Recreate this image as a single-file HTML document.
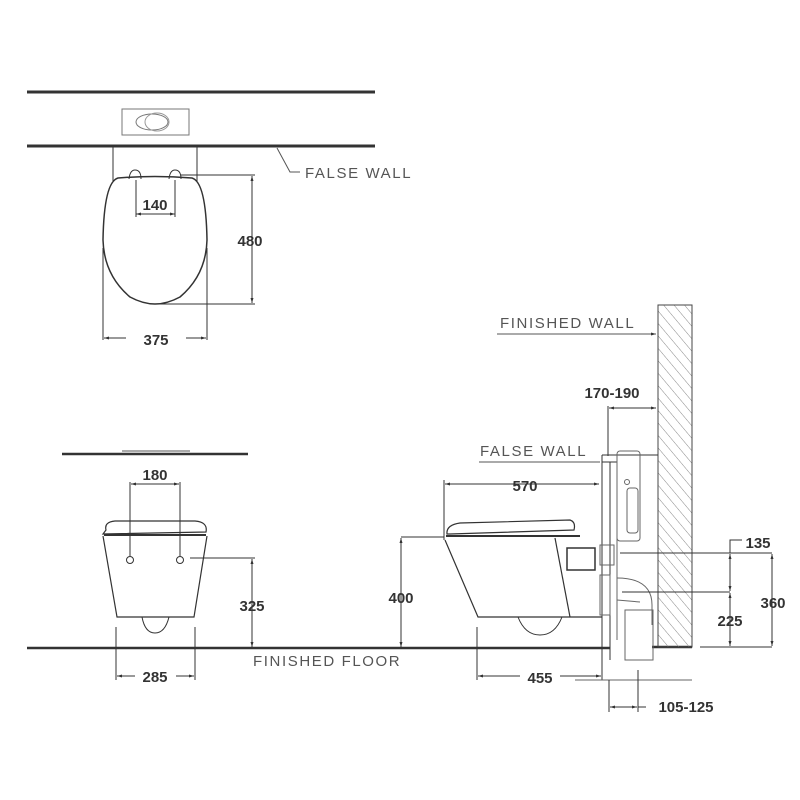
<!DOCTYPE html>
<html><head><meta charset="utf-8"><style>
html,body{margin:0;padding:0;background:#fff;}
svg{display:block;}
text{font-family:"Liberation Sans",sans-serif;fill:#333;}
.d{font-size:15px;font-weight:bold;text-anchor:middle;}
.l{font-size:15px;letter-spacing:1.6px;fill:#555;}
</style></head><body>
<svg width="800" height="800" viewBox="0 0 800 800" xmlns="http://www.w3.org/2000/svg">
<defs>
<pattern id="h" width="8" height="8" patternUnits="userSpaceOnUse" patternTransform="rotate(-40)"><line x1="0" y1="0" x2="0" y2="8" stroke="#888" stroke-width="1"/></pattern>
<marker id="a" viewBox="0 0 10 10" refX="10" refY="5" markerWidth="7" markerHeight="5" orient="auto-start-reverse"><path d="M0,2 L10,5 L0,8 z" fill="#333"/></marker>
</defs>
<g stroke="#333" fill="none" stroke-width="1">
<!-- TOP VIEW -->
<line x1="27" y1="92" x2="375" y2="92" stroke-width="3"/>
<rect x="122" y="109" width="67" height="26" stroke="#777"/>
<ellipse cx="152" cy="122" rx="16" ry="8" stroke="#777"/>
<ellipse cx="157" cy="122" rx="12" ry="9" stroke="#999"/>
<line x1="27" y1="146" x2="375" y2="146" stroke-width="3"/>
<polyline points="277,148 290,172 300,172" stroke="#555"/>
<line x1="113" y1="147" x2="113" y2="181"/>
<line x1="197" y1="147" x2="197" y2="181"/>
<path d="M129,179 Q130,170 135,170 Q141,170 141,179"/>
<path d="M169,179 Q170,170 175,170 Q181,170 181,179"/>
<path d="M118,178 Q155,175 192,178 Q206,182 207,240 Q206,275 180,297 Q167,304 155,304 Q143,304 130,297 Q104,275 103,240 Q104,182 118,178 Z" stroke-width="1.5"/>
<line x1="136" y1="180" x2="136" y2="217"/>
<line x1="175" y1="180" x2="175" y2="217"/>
<line x1="136" y1="214" x2="175" y2="214" marker-start="url(#a)" marker-end="url(#a)"/>
<line x1="180" y1="175" x2="255" y2="175"/>
<line x1="160" y1="304" x2="255" y2="304"/>
<line x1="252" y1="176" x2="252" y2="303" marker-start="url(#a)" marker-end="url(#a)"/>
<line x1="103" y1="248" x2="103" y2="340"/>
<line x1="207" y1="248" x2="207" y2="340"/>
<line x1="104" y1="338" x2="126" y2="338" marker-start="url(#a)"/>
<line x1="186" y1="338" x2="206" y2="338" marker-end="url(#a)"/>
<!-- FRONT VIEW -->
<line x1="62" y1="454" x2="248" y2="454" stroke-width="2.5"/>
<line x1="122" y1="451" x2="190" y2="451" stroke="#aaa" stroke-width="2"/>
<line x1="130" y1="482" x2="130" y2="556"/>
<line x1="180" y1="482" x2="180" y2="556"/>
<line x1="131" y1="484" x2="179" y2="484" marker-start="url(#a)" marker-end="url(#a)"/>
<path d="M106,530 Q104,522 115,521 L195,521 Q208,522 206,532 L103,534 Z" stroke-width="1.2"/>
<line x1="104" y1="535" x2="206" y2="535" stroke-width="2"/>
<path d="M103,536 L117,617 L194,617 L207,536" stroke-width="1.2"/>
<path d="M142,617 Q145,633 155,633 Q165,633 169,617"/>
<circle cx="130" cy="560" r="3.5"/>
<circle cx="180" cy="560" r="3.5"/>
<line x1="190" y1="558" x2="255" y2="558"/>
<line x1="252" y1="559" x2="252" y2="647" marker-start="url(#a)" marker-end="url(#a)"/>
<line x1="116" y1="627" x2="116" y2="680"/>
<line x1="195" y1="627" x2="195" y2="680"/>
<line x1="117" y1="676" x2="135" y2="676" marker-start="url(#a)"/>
<line x1="176" y1="676" x2="194" y2="676" marker-end="url(#a)"/>
<!-- FLOOR -->
<line x1="27" y1="648" x2="610" y2="648" stroke-width="2.5"/>
<line x1="652" y1="647" x2="692" y2="647" stroke-width="2.5"/>
<!-- SIDE VIEW -->
<rect x="658" y="305" width="34" height="342" fill="url(#h)" stroke="#444"/>
<line x1="497" y1="334" x2="656" y2="334" stroke="#555" marker-end="url(#a)"/>
<line x1="608" y1="406" x2="608" y2="456"/>
<line x1="609" y1="408" x2="656" y2="408" marker-start="url(#a)" marker-end="url(#a)"/>
<line x1="479" y1="462" x2="600" y2="462" stroke="#555"/>
<line x1="602" y1="455" x2="602" y2="660"/>
<line x1="610" y1="462" x2="610" y2="660"/>
<line x1="602" y1="455" x2="658" y2="455"/>
<line x1="602" y1="462" x2="617" y2="462"/>
<line x1="617" y1="462" x2="617" y2="640" stroke="#666"/>
<rect x="617" y="451" width="23" height="90" rx="3" stroke="#666"/>
<rect x="627" y="488" width="11" height="45" rx="3" stroke="#666"/>
<circle cx="627" cy="482" r="2.5" stroke="#666"/>
<rect x="600" y="545" width="14" height="20" stroke="#666"/>
<rect x="600" y="575" width="10" height="40" stroke="#666"/>
<path d="M617,578 Q652,578 652,605 L652,625" stroke="#666"/>
<line x1="617" y1="600" x2="640" y2="602" stroke="#666"/>
<rect x="625" y="610" width="28" height="50" stroke="#666"/>
<line x1="444" y1="480" x2="444" y2="540"/>
<line x1="445" y1="484" x2="599" y2="484" marker-start="url(#a)" marker-end="url(#a)"/>
<path d="M447,534 Q446,525 460,523 L570,520 Q576,522 574,530 L450,534 Z" stroke-width="1.2"/>
<line x1="446" y1="536" x2="580" y2="536" stroke-width="2"/>
<line x1="401" y1="537" x2="444" y2="537"/>
<path d="M445,540 L478,617 L602,617" stroke-width="1.2"/>
<line x1="555" y1="538" x2="570" y2="617" stroke-width="1.2"/>
<path d="M518,617 Q525,635 540,635 Q555,635 562,617"/>
<rect x="567" y="548" width="28" height="22" stroke-width="1.5"/>
<line x1="401" y1="538" x2="401" y2="647" marker-start="url(#a)" marker-end="url(#a)"/>
<line x1="477" y1="627" x2="477" y2="680"/>
<line x1="602" y1="660" x2="602" y2="680"/>
<line x1="478" y1="676" x2="520" y2="676" marker-start="url(#a)"/>
<line x1="560" y1="676" x2="601" y2="676" marker-end="url(#a)"/>
<line x1="575" y1="680" x2="692" y2="680" stroke="#666"/>
<line x1="609" y1="680" x2="609" y2="712"/>
<line x1="638" y1="670" x2="638" y2="712"/>
<line x1="610" y1="707" x2="637" y2="707" marker-start="url(#a)" marker-end="url(#a)"/>
<line x1="638" y1="707" x2="646" y2="707"/>
<line x1="620" y1="553" x2="772" y2="553"/>
<line x1="622" y1="592" x2="730" y2="592"/>
<polyline points="730,553 730,540 742,540"/>
<line x1="730" y1="554" x2="730" y2="591" marker-start="url(#a)" marker-end="url(#a)"/>
<line x1="730" y1="593" x2="730" y2="646" marker-start="url(#a)" marker-end="url(#a)"/>
<line x1="772" y1="554" x2="772" y2="646" marker-start="url(#a)" marker-end="url(#a)"/>
<line x1="700" y1="647" x2="772" y2="647"/>
</g>
<text class="l" x="305" y="178">FALSE WALL</text>
<text class="d" x="155" y="210">140</text>
<text class="d" x="250" y="246">480</text>
<text class="d" x="156" y="345">375</text>
<text class="d" x="155" y="480">180</text>
<text class="d" x="252" y="611">325</text>
<text class="d" x="155" y="682">285</text>
<text class="l" x="253" y="666">FINISHED FLOOR</text>
<text class="l" x="500" y="328">FINISHED WALL</text>
<text class="d" x="612" y="398">170-190</text>
<text class="l" x="480" y="456">FALSE WALL</text>
<text class="d" x="525" y="491">570</text>
<text class="d" x="401" y="603">400</text>
<text class="d" x="540" y="683">455</text>
<text class="d" x="686" y="712">105-125</text>
<text class="d" x="758" y="548">135</text>
<text class="d" x="730" y="626">225</text>
<text class="d" x="773" y="608">360</text>
</svg>
</body></html>
